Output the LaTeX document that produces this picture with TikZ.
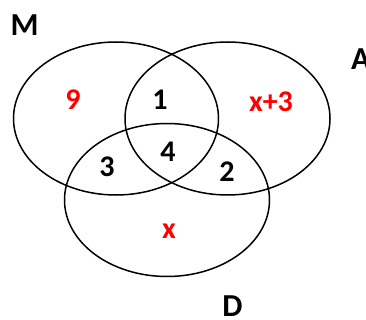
\documentclass[tikz,border=0pt]{standalone}
\usepackage{fontspec}
\setmainfont{Carlito}
\usepackage{tikz}
\usetikzlibrary{shapes.geometric}

\begin{document}
\begin{tikzpicture}[
  x=1pt, y=-1pt,
  set/.style={draw, ellipse, line width=1.5pt, inner sep=0pt, minimum width=205pt, minimum height=153pt},
  lbl/.style={font=\fontsize{32}{34}\selectfont\bfseries, inner sep=0pt},
  num/.style={font=\fontsize{30}{32}\selectfont\bfseries, inner sep=0pt},
  var/.style={num, text=red}
]
\useasboundingbox (0,0) rectangle (366,320);
\node[set] (setM) at (116,118.5) {};
\node[set] (setA) at (227.5,118.5) {};
\node[set] (setD) at (167,200) {};
% set names
\node[lbl] (nameM) at (24.5,25) {M};
\node[lbl, anchor=west] (nameA) at (351,59) {A};
\node[lbl] (nameD) at (232.5,306) {D};
% region counts
\node[var] (onlyM) at (73,100) {9};
\node[num] (MA) at (160,100) {1};
\node[var] (onlyA) at (271,102) {x+3};
\node[num] (MAD) at (168,152) {4};
\node[num] (MD) at (107,167) {3};
\node[num] (AD) at (227,172) {2};
\node[var] (onlyD) at (169,231) {x};
\end{tikzpicture}
\end{document}
